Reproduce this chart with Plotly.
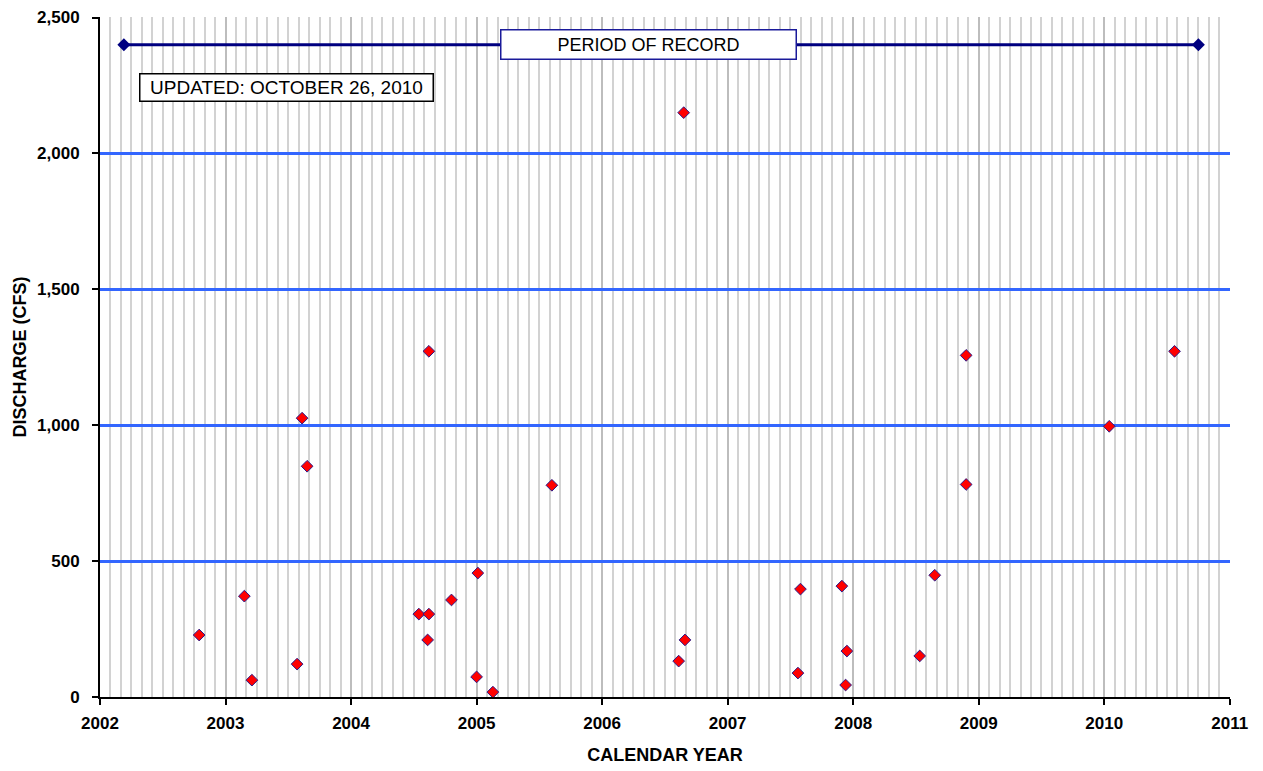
import plotly.graph_objects as go

# Decimal calendar years and discharge (cfs)
years = [2002.79, 2003.15, 2003.21, 2003.57, 2003.61, 2003.65,
         2004.54, 2004.62, 2004.62, 2004.61, 2004.80, 2005.01, 2005.00, 2005.13,
         2005.60, 2006.61, 2006.66, 2006.65,
         2007.56, 2007.58, 2007.91, 2007.95, 2007.94,
         2008.53, 2008.65, 2008.90, 2008.90, 2010.04, 2010.56]
discharge = [228, 371, 62, 121, 1026, 849,
             305, 305, 1272, 210, 357, 456, 74, 18,
             779, 132, 210, 2150,
             88, 397, 408, 169, 44,
             151, 448, 1257, 782, 996, 1272]

record_years = [2002.19, 2010.75]
record_level = [2400, 2400]

x_ticks = [2002, 2003, 2004, 2005, 2006, 2007, 2008, 2009, 2010, 2011]
y_ticks = [0, 500, 1000, 1500, 2000, 2500]
y_labels = ["0", "500", "1,000", "1,500", "2,000", "2,500"]

fig = go.Figure()
fig.add_trace(go.Scatter(
    x=record_years, y=record_level, mode="lines+markers",
    line=dict(color="#000080", width=3),
    marker=dict(symbol="diamond", size=10, color="#000080"),
    showlegend=False, hoverinfo="skip"))
fig.add_trace(go.Scatter(
    x=years, y=discharge, mode="markers",
    marker=dict(symbol="diamond", size=9, color="#ff0000",
                line=dict(color="#2a1a8a", width=1)),
    showlegend=False))

font_family = "Liberation Sans, Arial, sans-serif"

fig.update_layout(
    width=1255, height=763,
    margin=dict(l=92, r=33, t=9, b=74),
    paper_bgcolor="white", plot_bgcolor="white",
    font=dict(family=font_family, color="black"),
    xaxis=dict(
        range=[2002, 2011.002], tickvals=x_ticks,
        ticktext=[str(v) for v in x_ticks],
        tickfont=dict(size=17, family=font_family, weight="bold"),
        ticklabelstandoff=4,
        showgrid=True, gridcolor="#bdbdbd", gridwidth=2,
        minor=dict(dtick=1/12, tick0=2002, showgrid=True,
                   gridcolor="#d2d2d2", gridwidth=1.5),
        showline=True, linecolor="black", linewidth=2,
        ticks="outside", ticklen=6, tickwidth=2, tickcolor="black",
        zeroline=False,
        title=dict(text="CALENDAR YEAR",
                   font=dict(size=18, family=font_family, weight="bold"),
                   standoff=16),
    ),
    yaxis=dict(
        range=[0, 2502], tickvals=y_ticks, ticktext=y_labels,
        tickfont=dict(size=17, family=font_family, weight="bold"),
        ticklabelstandoff=9, automargin=False,
        showgrid=True, gridcolor="#3366ff", gridwidth=2.5,
        showline=True, linecolor="black", linewidth=2,
        ticks="outside", ticklen=6, tickwidth=2, tickcolor="black",
        zeroline=False,
        title=dict(text="DISCHARGE (CFS)",
                   font=dict(size=18, family=font_family, weight="bold"),
                   standoff=6),
    ),
    annotations=[
        dict(x=2006.367, y=record_level[0],
             xref="x", yref="y", text="PERIOD OF RECORD", showarrow=False,
             font=dict(size=18, family=font_family, color="black"),
             bgcolor="white", bordercolor="#1a1a9a", borderwidth=1.5,
             width=290, height=24, borderpad=2),
        dict(x=2002.314, y=2244, xref="x", yref="y", xanchor="left",
             text="UPDATED: OCTOBER 26, 2010", showarrow=False,
             font=dict(size=19, family=font_family, color="black"),
             bgcolor="white", bordercolor="black", borderwidth=1.5,
             width=288, height=22, borderpad=2),
    ],
)

fig.write_html("out.html")
